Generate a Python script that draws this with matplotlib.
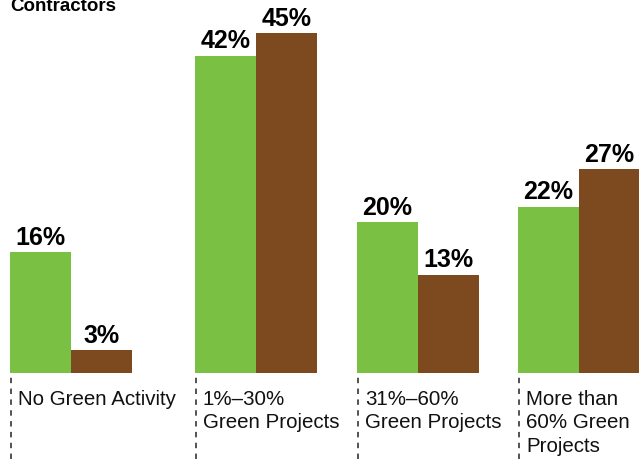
import matplotlib.pyplot as plt

categories = ["No Green Activity", "1%\u201330%\nGreen Projects",
              "31%\u201360%\nGreen Projects", "More than\n60% Green\nProjects"]
green_vals = [16, 42, 20, 22]
brown_vals = [3, 45, 13, 27]

plt.rcParams["font.family"] = ["Liberation Sans", "DejaVu Sans"]

GREEN = "#7ac143"
BROWN = "#7c4a1e"

fig = plt.figure(figsize=(6.39, 4.6), dpi=100)
ax = fig.add_axes([0, 86 / 460, 1, 374 / 460])
ax.set_xlim(0, 639)
ax.set_ylim(0, 374 / 7.55)
ax.axis("off")

# group left edges (pixel layout)
lefts = [10, 195, 357, 518]
w = 61

ax.bar([l + w / 2 for l in lefts], green_vals, width=w, color=GREEN)
ax.bar([l + w * 1.5 for l in lefts], brown_vals, width=w, color=BROWN)

for l, g, b in zip(lefts, green_vals, brown_vals):
    ax.annotate(f"{g}%", (l + w / 2, g), xytext=(0, 2.5), textcoords="offset points",
                ha="center", va="bottom", fontsize=18, fontweight="bold")
    ax.annotate(f"{b}%", (l + w * 1.5, b), xytext=(0, 2.5), textcoords="offset points",
                ha="center", va="bottom", fontsize=18, fontweight="bold")

for l, cat in zip(lefts, categories):
    x = (l + 1) / 639
    fig.add_artist(plt.Line2D([x, x], [0, 82 / 460], color="#444444",
                              lw=1.3, ls=(0, (3, 3)), transform=fig.transFigure))
    fig.text((l + 8) / 639, 1 - 390 / 460, cat, ha="left", va="top",
             fontsize=14.8, linespacing=1.3, color="#111111")

fig.text(10 / 639, 1 - 11 / 460, "Contractors", ha="left", va="baseline",
         fontsize=13.5, fontweight="bold")

fig.savefig("out.png", dpi=100)
